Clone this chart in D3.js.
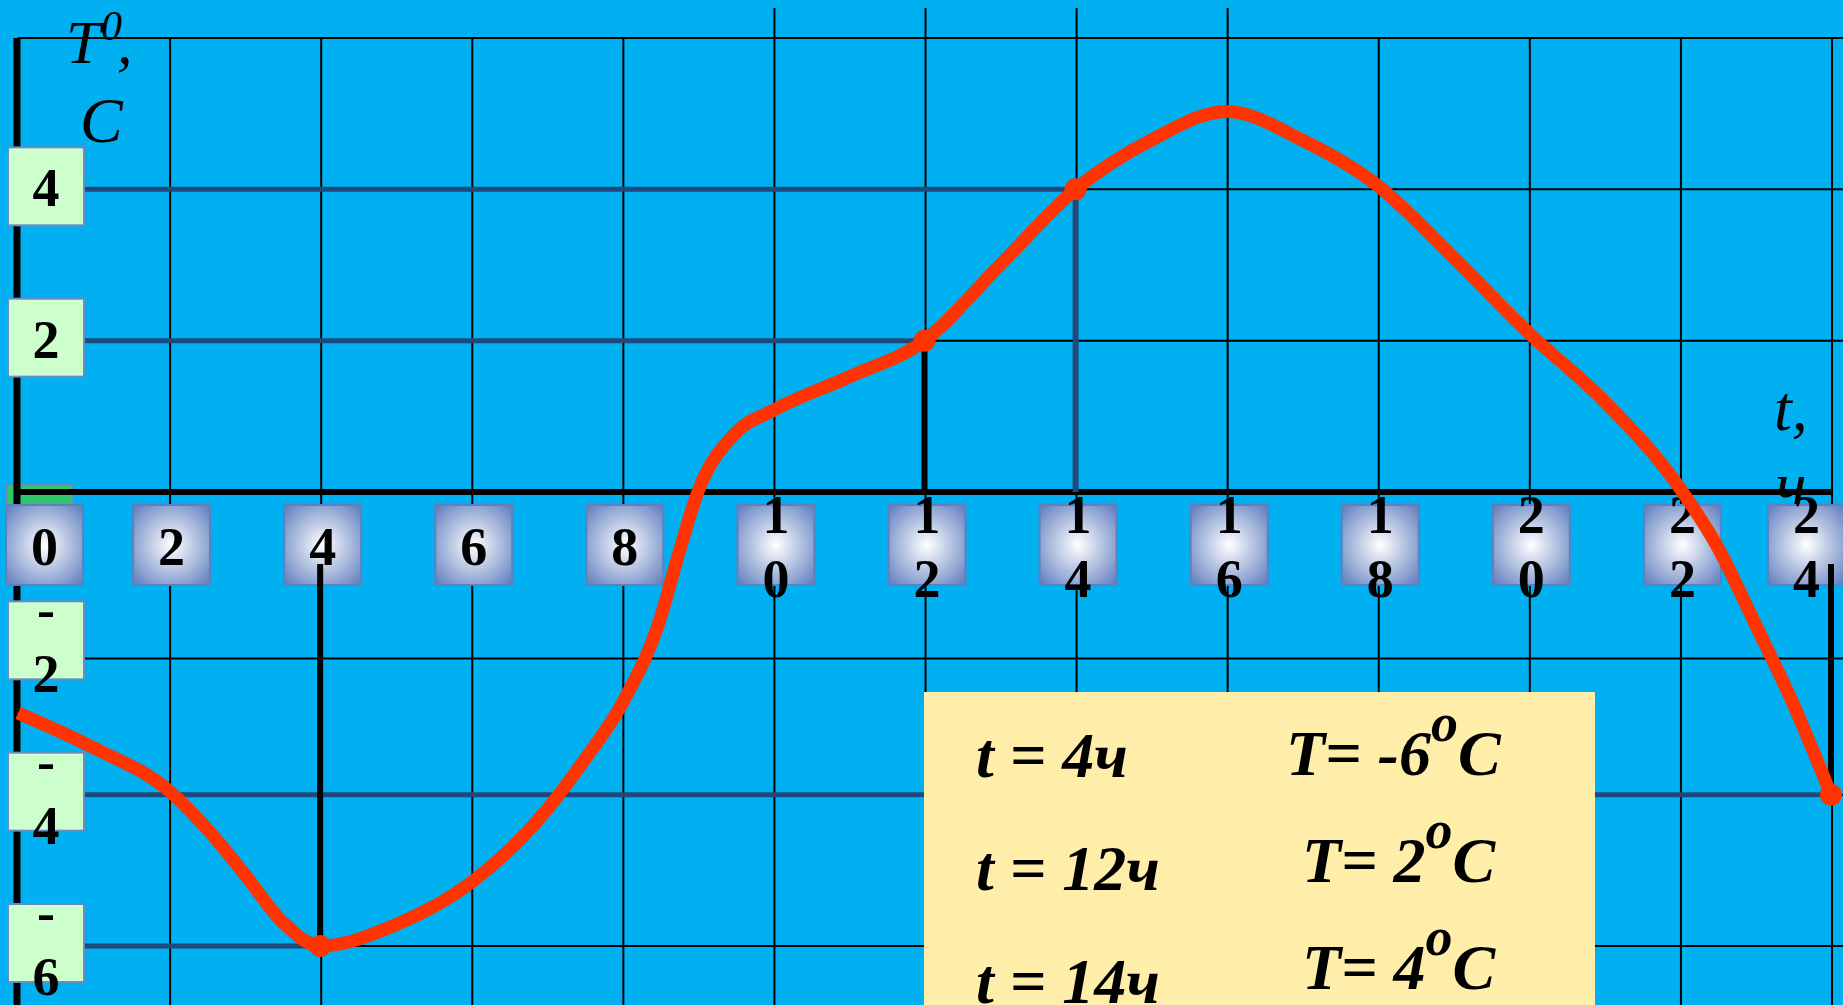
<!DOCTYPE html>
<html>
<head>
<meta charset="utf-8">
<script src="https://cdn.jsdelivr.net/npm/d3@7"></script>
<style>
  html, body { margin: 0; padding: 0; background: #00b0f0; overflow: hidden; }
  svg { display: block; }
</style>
</head>
<body>
<svg id="chart" width="1843" height="1005"></svg>
<script>
// temperature over the day
const hours = [0, 1, 2, 2.5, 3, 3.5, 4, 5, 6, 7, 7.5, 8, 8.5, 8.75, 9, 9.5, 10, 11, 12,
  13, 14, 15, 16, 17, 18, 19, 20, 21, 22, 22.5, 23, 23.5, 24];
const temps = [-2.92, -3.38, -3.95, -4.45, -5.05, -5.68, -6, -5.72, -5.16, -4.2, -3.54, -2.79, -1.68, -0.8, 0, 0.78, 1.08, 1.52, 2,
  3.0, 4, 4.65, 5.03, 4.65, 4.05, 3.1, 2.1, 1.2, 0.05, -0.73, -1.75, -2.8, -4];

// tick labels
const xTicks = [0, 2, 4, 6, 8, 10, 12, 14, 16, 18, 20, 22, 24];
const yTicks = [4, 2, -2, -4, -6];
const gridRows = [6, 4, 2, -2.2, -4, -6];
const tallColumns = [10, 12, 14, 16];

// marked points and the answers in the yellow box
const markHours = [4, 12, 14, 24];
const markTemps = [-6, 2, 4, -4];
const infoHours = [4, 12, 14];
const infoTemps = [-6, 2, 4];

const W = 1843, H = 1005;
const svg = d3.select("#chart");

const x = d3.scaleLinear().domain([0, 24]).range([18, 1831]);
const y = d3.scaleLinear().domain([-6, 6]).range([946, 38]);

const darkBlue = "#1f497d";
const serif = "'Liberation Serif', 'Times New Roman', serif";

// gradient for hour boxes
const grad = svg.append("defs").append("radialGradient")
  .attr("id", "boxGrad").attr("cx", "50%").attr("cy", "50%").attr("r", "72%");
grad.append("stop").attr("offset", "0%").attr("stop-color", "#ffffff");
grad.append("stop").attr("offset", "100%").attr("stop-color", "#5878bc");

svg.append("rect").attr("width", W).attr("height", H).attr("fill", "#00b0f0");

// grid
svg.append("g").selectAll("line").data(gridRows).join("line")
  .attr("x1", x(0)).attr("x2", W)
  .attr("y1", (d) => y(d)).attr("y2", (d) => y(d))
  .attr("stroke", "#000").attr("stroke-width", 2);

svg.append("g").selectAll("line").data(xTicks.slice(1)).join("line")
  .attr("x1", (d) => x(d) + 1).attr("x2", (d) => x(d) + 1)
  .attr("y1", (d) => (tallColumns.includes(d) ? y(6) - 30 : y(6)))
  .attr("y2", H)
  .attr("stroke", "#000").attr("stroke-width", 2);

// guide lines from the temperature labels to the marked points
svg.append("g").selectAll("line").data(markHours).join("line")
  .attr("x1", 84).attr("x2", (d) => x(d))
  .attr("y1", (d, i) => y(markTemps[i])).attr("y2", (d, i) => y(markTemps[i]))
  .attr("stroke", darkBlue).attr("stroke-width", 5);

// axis titles
const tTitle = svg.append("g").attr("font-family", serif).attr("font-style", "italic").attr("fill", "#000");
tTitle.append("text").attr("x", 66).attr("y", 63).attr("font-size", 62).text("T");
tTitle.append("text").attr("x", 101).attr("y", 40).attr("font-size", 42).text("0");
tTitle.append("text").attr("x", 117).attr("y", 63).attr("font-size", 62).text(",");
tTitle.append("text").attr("x", 80).attr("y", 142).attr("font-size", 64).text("C");
tTitle.append("text").attr("x", 1774).attr("y", 430).attr("font-size", 64).text("t,");
tTitle.append("text").attr("x", 1776).attr("y", 506).attr("font-size", 64).text("ч");

// hidden zero box behind the hour box
svg.append("rect").attr("x", 7).attr("y", 485).attr("width", 66).attr("height", 85)
  .attr("fill", "#33c46e").attr("stroke", "#6a8cc4").attr("stroke-width", 2);

// axes
svg.append("line").attr("x1", x(0) - 1).attr("x2", x(0) - 1).attr("y1", y(6)).attr("y2", H)
  .attr("stroke", "#000").attr("stroke-width", 7);
svg.append("line").attr("x1", x(0) - 4).attr("x2", x(24) + 2).attr("y1", y(0)).attr("y2", y(0))
  .attr("stroke", "#000").attr("stroke-width", 6);

// answer box
svg.append("rect").attr("x", 924).attr("y", 692).attr("width", 671).attr("height", H - 692)
  .attr("fill", "#ffeeaa");
const info = svg.append("g").attr("font-family", serif).attr("font-weight", "bold")
  .attr("font-style", "italic").attr("font-size", 64).attr("fill", "#000");
info.selectAll("text.h").data(infoHours).join("text").attr("class", "h")
  .attr("x", 976).attr("y", (d, i) => 777 + i * 113)
  .text((d) => "t = " + d + "ч");
const tempText = info.selectAll("text.t").data(infoTemps).join("text").attr("class", "t")
  .attr("x", (d) => (d < 0 ? 1286 : 1302)).attr("y", (d, i) => 775 + i * 107);
tempText.append("tspan").text((d) => "T= " + (d < 0 ? "-" : "") + Math.abs(d));
tempText.append("tspan").attr("dy", -34).attr("font-size", 54).text("o");
tempText.append("tspan").attr("dy", 34).text("C");

function drawLines(sel, chars, cy) {
  chars.forEach((c, i) => {
    sel.append("tspan")
      .attr("x", sel.attr("x"))
      .attr("y", chars.length === 1 ? cy + 20 : cy - 12 + i * 64)
      .text(c);
  });
}

// temperature boxes
const yBox = svg.append("g").selectAll("g").data(yTicks).join("g");
yBox.append("rect")
  .attr("x", 8).attr("y", (d) => y(d) - 42).attr("width", 76).attr("height", 78)
  .attr("fill", "#ccffcc").attr("stroke", "#6a8cc4").attr("stroke-width", 2);
yBox.append("text")
  .attr("x", 46).attr("text-anchor", "middle")
  .attr("font-family", serif).attr("font-weight", "bold").attr("font-size", 54)
  .each(function (d) { drawLines(d3.select(this), String(d).split(""), y(d) - 3); });

// hour boxes
const boxLeft = (d) => Math.min(1768, Math.max(6, x(d) - 36));
const xBox = svg.append("g").selectAll("g").data(xTicks).join("g");
xBox.append("rect")
  .attr("x", boxLeft).attr("y", 505).attr("width", 77).attr("height", 80)
  .attr("fill", "url(#boxGrad)").attr("stroke", "#5d80c0").attr("stroke-width", 2);
xBox.append("text")
  .attr("x", (d) => boxLeft(d) + 38.5).attr("text-anchor", "middle")
  .attr("font-family", serif).attr("font-weight", "bold").attr("font-size", 54)
  .each(function (d) { drawLines(d3.select(this), String(d).split(""), 545); });

// drop lines from the marked points to the hour axis
svg.append("g").selectAll("line").data(markHours).join("line")
  .attr("x1", (d) => x(d)).attr("x2", (d) => x(d))
  .attr("y1", (d, i) => (markTemps[i] < 0 ? y(0) + 72 : y(0)))
  .attr("y2", (d, i) => y(markTemps[i]))
  .attr("stroke", (d, i) => (markHours[i] === 14 ? darkBlue : "#000"))
  .attr("stroke-width", 6);

// temperature curve
const line = d3.line()
  .x((d) => x(d[0]))
  .y((d) => y(d[1]))
  .curve(d3.curveMonotoneX);

svg.append("path")
  .datum(hours.map((h, i) => [h, temps[i]]))
  .attr("d", line)
  .attr("fill", "none")
  .attr("stroke", "#ff3300")
  .attr("stroke-width", 13)
  .attr("stroke-linejoin", "round");

svg.append("g").selectAll("circle").data(markHours).join("circle")
  .attr("cx", (d) => x(d)).attr("cy", (d, i) => y(markTemps[i]))
  .attr("r", 11).attr("fill", "#ff3300");
</script>
</body>
</html>
